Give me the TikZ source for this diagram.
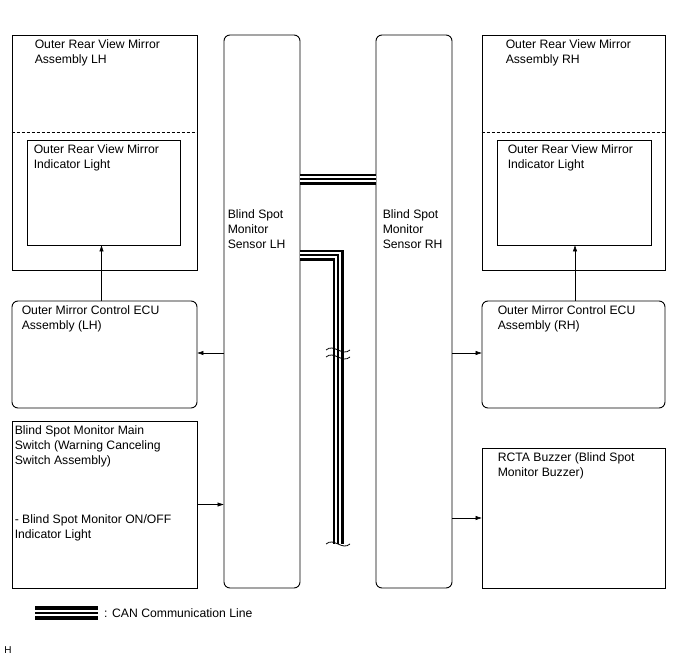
\documentclass[tikz,border=0pt]{standalone}
\usepackage{fontspec}
\setmainfont{Liberation Sans}
\usetikzlibrary{positioning,arrows.meta}

\tikzset{bsmbox/.style={draw,line width=0.9pt,inner sep=0pt},
         bsmrnd/.style={bsmbox,rounded corners=6pt},
         bsmtxt/.style={inner sep=0pt,align=left,font=\fontsize{12.2}{15}\selectfont},
         bsmarr/.style={line width=0.6pt,-{Triangle[length=6pt,width=4pt]}},
         bsmdash/.style={line width=0.9pt,dash pattern=on 3pt off 2pt},
         bsmcan/.style={draw=black,line width=11pt,line join=miter,
           postaction={draw=white,line width=5.4pt},postaction={draw=black,line width=1.2pt}},
         bsmleg/.style={bsmcan,line width=14pt}}

\begin{document}
\begin{tikzpicture}[x=1pt,y=-1pt]
    \useasboundingbox[fill=white] (0,0) rectangle (688,658);
    % left column
    \node[bsmbox,minimum width=185,minimum height=235] (mirL) at (104.5,152.5) {};
    \node[bsmbox,minimum width=153,minimum height=105] (indL) at (103.5,192.5) {};
    \node[bsmrnd,minimum width=185,minimum height=107] (ecuL) at (104.5,354.5) {};
    \node[bsmbox,minimum width=185,minimum height=167] (swL) at (104.5,504.5) {};
    \draw[bsmdash] (mirL.north west) ++(0,98) -- ++(185,0);
    % sensors
    \node[bsmrnd,minimum width=76,minimum height=553] (senL) at (262,311.5) {};
    \node[bsmrnd,minimum width=76,minimum height=553] (senR) at (414,311.5) {};
    % right column
    \node[bsmbox,minimum width=183,minimum height=235] (mirR) at (573.5,152.5) {};
    \node[bsmbox,minimum width=154,minimum height=105] (indR) at (574,192.5) {};
    \node[bsmrnd,minimum width=183,minimum height=107] (ecuR) at (573.5,354.5) {};
    \node[bsmbox,minimum width=183,minimum height=140] (buz) at (573.5,518) {};
    \draw[bsmdash] (mirR.north west) ++(0,98) -- ++(183,0);

    % texts
    \node[bsmtxt,below right=5pt and 23pt of mirL.north west] (mirLt) {Outer Rear View Mirror\\Assembly LH};
    \node[bsmtxt,below right=5pt and 7pt of indL.north west] (indLt) {Outer Rear View Mirror\\Indicator Light};
    \node[bsmtxt,below right=5pt and 10pt of ecuL.north west] (ecuLt) {Outer Mirror Control ECU\\Assembly (LH)};
    \node[bsmtxt,below right=5pt and 3pt of swL.north west] (swLt) {Blind Spot Monitor Main\\Switch (Warning Canceling\\Switch Assembly)};
    \node[bsmtxt,below right=94pt and 3pt of swL.north west] (swLi) {- Blind Spot Monitor ON/OFF\\Indicator Light};
    \node[bsmtxt,below right=175pt and 4pt of senL.north west] (senLt) {Blind Spot\\Monitor\\Sensor LH};
    \node[bsmtxt,below right=175pt and 7pt of senR.north west] (senRt) {Blind Spot\\Monitor\\Sensor RH};
    \node[bsmtxt,below right=5pt and 24pt of mirR.north west] (mirRt) {Outer Rear View Mirror\\Assembly RH};
    \node[bsmtxt,below right=5pt and 11pt of indR.north west] (indRt) {Outer Rear View Mirror\\Indicator Light};
    \node[bsmtxt,below right=5pt and 16pt of ecuR.north west] (ecuRt) {Outer Mirror Control ECU\\Assembly (RH)};
    \node[bsmtxt,below right=5pt and 16pt of buz.north west] (buzt) {RCTA Buzzer (Blind Spot\\Monitor Buzzer)};

    % signal lines
    \draw[bsmarr] ([xshift=-3pt]ecuL.north) -- ([xshift=-3pt]ecuL.north |- indL.south);
    \draw[bsmarr] ([xshift=1.5pt]ecuR.north) -- ([xshift=1.5pt]ecuR.north |- indR.south);
    \draw[bsmarr] ([yshift=1.5pt]senL.west |- ecuL.east) -- ([yshift=1.5pt]ecuL.east);
    \draw[bsmarr] ([yshift=1.5pt]senR.east |- ecuR.west) -- ([yshift=1.5pt]ecuR.west);
    \draw[bsmarr] (swL.east) -- (swL.east -| senL.west);
    \draw[bsmarr] (senR.east |- buz.west) -- (buz.west);

    % CAN lines
    \draw[bsmcan] ([yshift=132.5pt]senL.east) -- ([yshift=132.5pt]senR.west);
    \coordinate (brk) at (338,350);
    \coordinate (canE) at (338,544);
    \draw[bsmcan] ([yshift=56.5pt]senL.east) -| (brk);
    \draw[bsmcan] ([yshift=7pt]brk) -- (canE);
    \foreach \c/\d in {brk/0,brk/7,canE/0}
      \draw[line width=0.8pt] ([shift={(-12,\d)}]\c) .. controls ([shift={(-4,\d-7)}]\c) and ([shift={(4,\d+7)}]\c) .. ([shift={(12,\d)}]\c);

    % legend
    \coordinate (legA) at (35,613);
    \coordinate (legB) at (98,613);
    \draw[bsmleg] (legA) -- (legB);
    \node[bsmtxt,right=6pt of legB] (legt) {: CAN Communication Line};
    \node[inner sep=0pt,font=\fontsize{10}{12}\selectfont] (hmark) at (8,650) {H};
\end{tikzpicture}
\end{document}
